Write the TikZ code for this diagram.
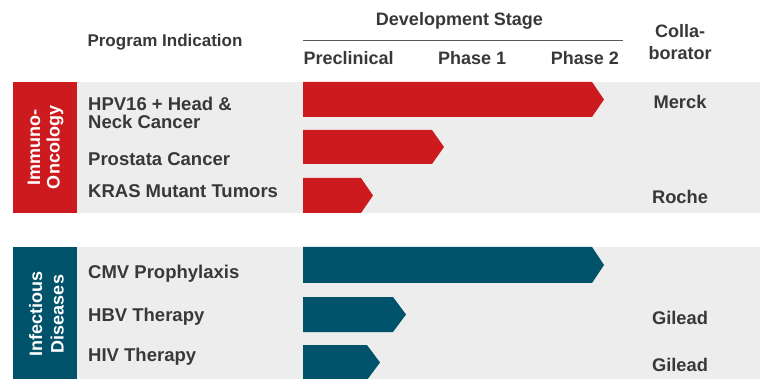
\documentclass[tikz,border=0pt]{standalone}
\usepackage{fontspec}
\setmainfont{Liberation Sans}
\usepackage{xcolor}
\usepackage{tikz}
\usetikzlibrary{positioning}
\definecolor{iored}{HTML}{CC1A1E}
\definecolor{idblue}{HTML}{00536B}
\definecolor{rowgray}{HTML}{EDEDED}
\definecolor{txtgray}{HTML}{383838}
\tikzset{
  hdtext/.style={font=\bfseries\fontsize{18}{22}\selectfont, text=txtgray, inner sep=0pt},
  rowtext/.style={font=\bfseries\fontsize{18.5}{17.6}\selectfont, text=txtgray, inner sep=0pt, anchor=base west, align=left},
  coltext/.style={font=\bfseries\fontsize{18.3}{22}\selectfont, text=txtgray, inner sep=0pt, anchor=base},
  grptext/.style={font=\bfseries\fontsize{18}{19.5}\selectfont, text=white, inner sep=0pt, align=center, rotate=90}
}

\begin{document}
\begin{tikzpicture}[x=1pt,y=-1pt]
    \useasboundingbox (0,0) rectangle (760,379);
    % group backgrounds
    \fill[rowgray] (77,82) rectangle (760,213);
    \fill[rowgray] (77,247) rectangle (760,379);
    \fill[iored] (13,82) rectangle (77,213);
    \fill[idblue] (13,247) rectangle (77,379);
    \node[grptext] (immuno) at (45.5,147.5) {Immuno-\\Oncology};
    \node[grptext, font=\bfseries\fontsize{18}{21.5}\selectfont] (infect) at (46.5,314) {Infectious\\Diseases};

    % header
    \node[hdtext, anchor=base, font=\bfseries\fontsize{17}{20}\selectfont] (prog) at (165,46.7) {Program Indication};
    \node[hdtext, anchor=base] (devstage) at (459.5,26) {Development Stage};
    \draw[black!65, line width=1.1pt] (303,40.3) -- (623,40.3);
    \node[hdtext, anchor=base west] (precl) at (303.3,65) {Preclinical};
    \node[hdtext, anchor=base west] (ph1) at (438,65) {Phase 1};
    \node[hdtext, anchor=base east] (ph2) at (619,65) {Phase 2};
    \node[hdtext, anchor=base, align=center] (collab) at (680,59.3) {Colla-\\borator};

    % immuno-oncology programs
    \fill[iored] (303,82) -- (592,82) -- (604,99.5) -- (592,117) -- (303,117) -- cycle;
    \fill[iored] (303,130) -- (432,130) -- (444,147) -- (432,164) -- (303,164) -- cycle;
    \fill[iored] (303,178) -- (361,178) -- (373,195.5) -- (361,213) -- (303,213) -- cycle;
    \node[rowtext] (hpv) at (88,128.3) {HPV16 + Head \&\\Neck Cancer};
    \node[rowtext] (prost) at (88,165.5) {Prostata Cancer};
    \node[rowtext] (kras) at (88,197.5) {KRAS Mutant Tumors};
    \node[coltext] (merck) at (680,108.3) {Merck};
    \node[coltext] (roche) at (680,203.3) {Roche};

    % infectious disease programs
    \fill[idblue] (303,247) -- (592,247) -- (604,265) -- (592,283) -- (303,283) -- cycle;
    \fill[idblue] (303,297) -- (393,297) -- (406,314.5) -- (393,332) -- (303,332) -- cycle;
    \fill[idblue] (303,345) -- (367,345) -- (380,362.5) -- (367,380) -- (303,380) -- cycle;
    \node[rowtext] (cmv) at (88,278.5) {CMV Prophylaxis};
    \node[rowtext] (hbv) at (88,321) {HBV Therapy};
    \node[rowtext] (hiv) at (88,361.5) {HIV Therapy};
    \node[coltext] (gilhbv) at (680,324) {Gilead};
    \node[coltext] (gilhiv) at (680,371.7) {Gilead};
\end{tikzpicture}
\end{document}
